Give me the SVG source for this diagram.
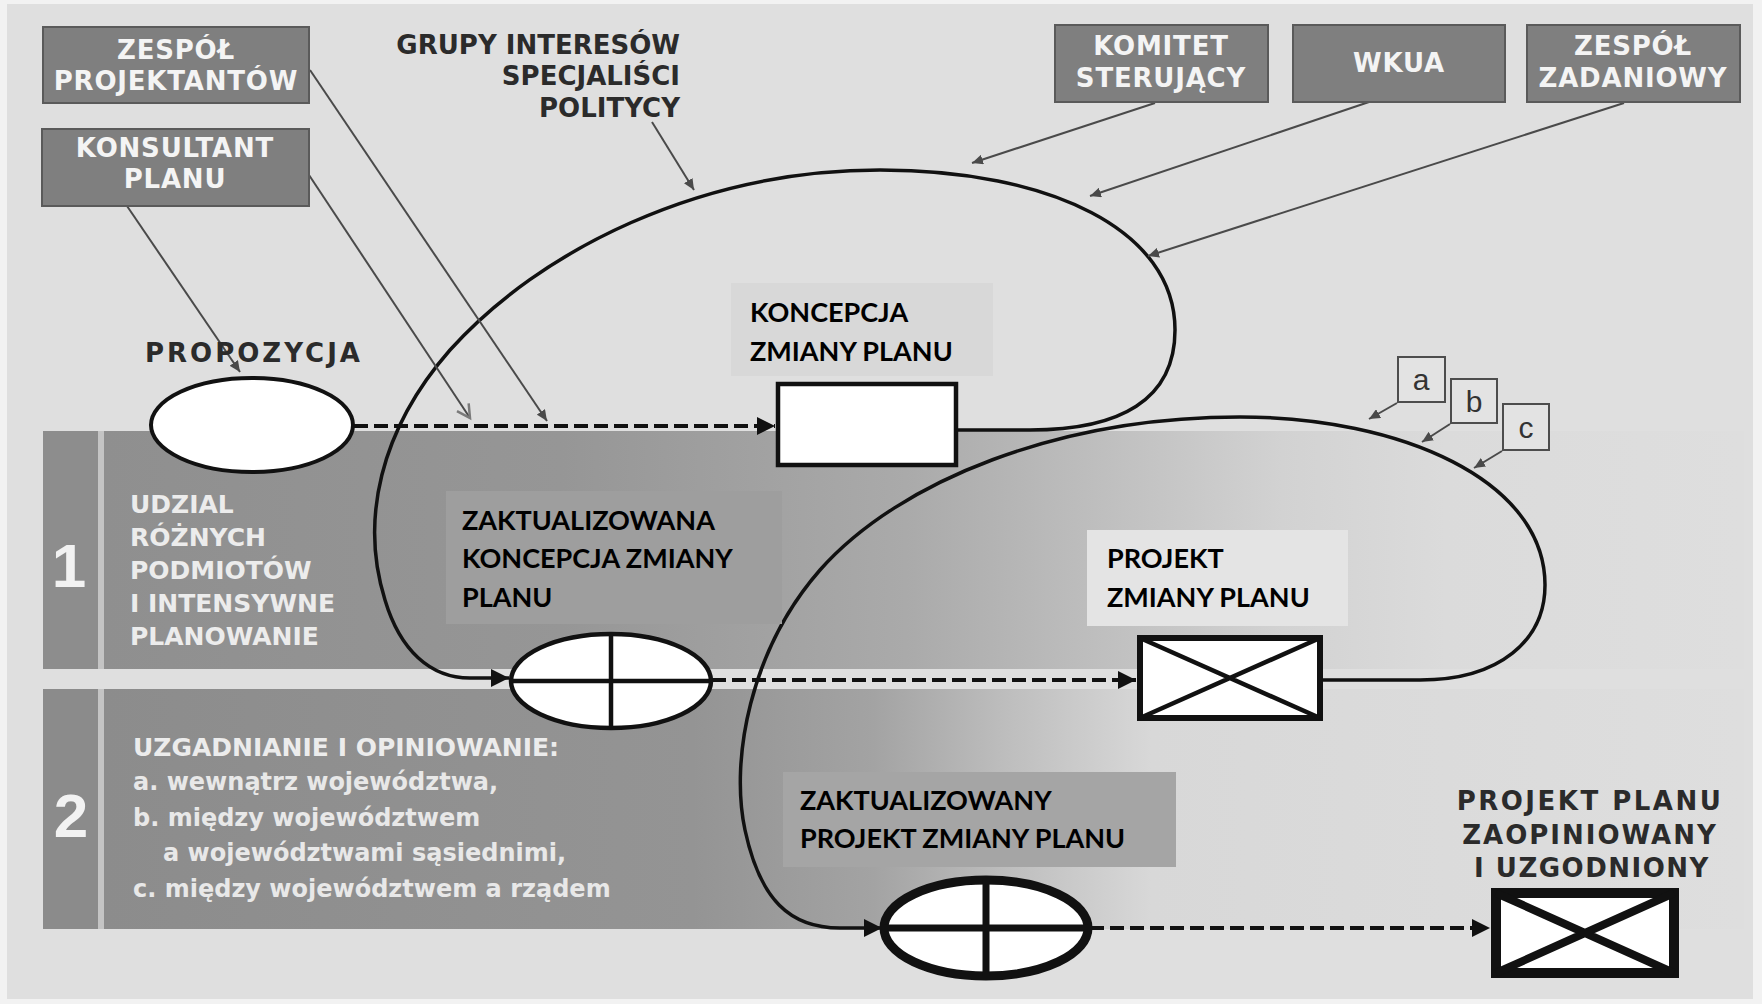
<svg xmlns="http://www.w3.org/2000/svg" width="1762" height="1004" viewBox="0 0 1762 1004">
<style>
.box{fill:#7f7f7f;stroke:#5a5a5a;stroke-width:2}
.boxt{font-family:'DejaVu Sans',sans-serif;font-weight:bold;font-size:26px;fill:#f4f4f4;text-anchor:middle;letter-spacing:0.8px}
.dark{font-family:'DejaVu Sans',sans-serif;font-weight:bold;font-size:26px;fill:#2b2b2b}
.bandt{font-family:'DejaVu Sans',sans-serif;font-weight:bold;font-size:25px;fill:#ececec}
.bandl{font-family:'DejaVu Sans',sans-serif;font-weight:bold;font-size:24px;fill:#e8e8e8}
.num{font-family:'Liberation Sans',Arial,sans-serif;font-weight:bold;font-size:62px;fill:#f2f2f2;text-anchor:middle}
.ov{font-family:Lato,'Open Sans',sans-serif;font-weight:bold;font-size:27px;fill:#000}
.flow{fill:none;stroke:#111;stroke-width:3.5}
.dash{fill:none;stroke:#111;stroke-width:4;stroke-dasharray:14 6}
.thin{fill:none;stroke:#4a4a4a;stroke-width:2}
.node{fill:#fff;stroke:#111}
.abc{fill:#e3e3e3;stroke:#4d4d4d;stroke-width:2}
.abct{font-family:'Liberation Sans',Arial,sans-serif;font-size:30px;fill:#333;text-anchor:middle}
</style>
<defs>
<linearGradient id="g1" gradientUnits="userSpaceOnUse" x1="104" y1="0" x2="1740" y2="0">
<stop offset="0" stop-color="#8f8f8f"/>
<stop offset="0.28" stop-color="#969696"/>
<stop offset="0.49" stop-color="#aaaaaa"/>
<stop offset="0.64" stop-color="#c4c4c4"/>
<stop offset="0.72" stop-color="#d2d2d2"/>
<stop offset="0.82" stop-color="#dbdbdb"/>
<stop offset="1" stop-color="#dedede"/>
</linearGradient>
<linearGradient id="g2" gradientUnits="userSpaceOnUse" x1="104" y1="0" x2="1740" y2="0">
<stop offset="0" stop-color="#8c8c8c"/>
<stop offset="0.36" stop-color="#949494"/>
<stop offset="0.47" stop-color="#a3a3a3"/>
<stop offset="0.55" stop-color="#bdbdbd"/>
<stop offset="0.64" stop-color="#d8d8d8"/>
<stop offset="1" stop-color="#dedede"/>
</linearGradient>
<marker id="ah" markerUnits="userSpaceOnUse" markerWidth="20" markerHeight="20" refX="18" refY="9" orient="auto"><path d="M0,0 L18,9 L0,18 z" fill="#111"/></marker>
<marker id="sm" markerUnits="userSpaceOnUse" markerWidth="12" markerHeight="10" refX="11" refY="5" orient="auto"><path d="M0,0 L11,5 L0,10 z" fill="#4a4a4a"/></marker>
<marker id="open" markerUnits="userSpaceOnUse" markerWidth="18" markerHeight="18" refX="14" refY="8" orient="auto"><path d="M1,1 L14,8 L1,15" fill="none" stroke="#7a7a7a" stroke-width="2.5"/></marker>
</defs>

<rect x="0" y="0" width="1762" height="1004" fill="#f2f2f2"/>
<rect x="7" y="4" width="1746" height="995" fill="#dfdfdf"/>

<g id="band1">
<rect x="43" y="431" width="55" height="238" fill="#8d8d8d"/>
<rect x="98" y="431" width="6" height="238" fill="#c4c4c4"/>
<rect x="104" y="431" width="1640" height="238" fill="url(#g1)"/>
<text class="num" x="69" y="587">1</text>
<text class="bandt" x="130" y="513">UDZIAL</text>
<text class="bandt" x="130" y="546">RÓŻNYCH</text>
<text class="bandt" x="130" y="579">PODMIOTÓW</text>
<text class="bandt" x="130" y="612">I INTENSYWNE</text>
<text class="bandt" x="130" y="645">PLANOWANIE</text>
</g>

<g id="band2">
<rect x="43" y="689" width="55" height="240" fill="#8b8b8b"/>
<rect x="98" y="689" width="6" height="240" fill="#c4c4c4"/>
<rect x="104" y="689" width="1640" height="240" fill="url(#g2)"/>
<text class="num" x="71" y="837">2</text>
<text class="bandt" x="133" y="756">UZGADNIANIE I OPINIOWANIE:</text>
<text class="bandl" x="133" y="790">a. wewnątrz województwa,</text>
<text class="bandl" x="133" y="826">b. między województwem</text>
<text class="bandl" x="163" y="861">a województwami sąsiednimi,</text>
<text class="bandl" x="133" y="897">c. między województwem a rządem</text>
</g>

<g id="connectors">
<path class="flow" marker-end="url(#ah)" d="M 956 430 L 1030 430 C 1120 430, 1175 400, 1175 330 C 1175 230, 1050 170, 880 170 C 700 170, 540 250, 450 350 C 380 430, 360 520, 385 600 C 400 650, 430 678, 470 678 L 509 678"/>
<path class="flow" marker-end="url(#ah)" d="M 1321 680 L 1420 680 C 1500 680, 1545 640, 1545 585 C 1545 480, 1400 417, 1240 417 C 1060 417, 900 480, 820 570 C 750 650, 730 760, 745 830 C 760 900, 790 928, 840 928 L 882 928"/>
<path class="dash" marker-end="url(#ah)" d="M 354 426 L 775 426"/>
<path class="dash" marker-end="url(#ah)" d="M 712 680 L 1136 680"/>
<path class="dash" marker-end="url(#ah)" d="M 1090 928 L 1490 928"/>
<path class="thin" stroke="#666" marker-end="url(#sm)" d="M 310 70 L 547 421"/>
<path class="thin" stroke="#7a7a7a" stroke-width="2.5" marker-end="url(#open)" d="M 309 175 L 470 418"/>
<path class="thin" marker-end="url(#sm)" d="M 127 206 L 240 372"/>
<path class="thin" marker-end="url(#sm)" d="M 652 122 L 694 190"/>
<path class="thin" marker-end="url(#sm)" d="M 1155 103 L 972 163"/>
<path class="thin" marker-end="url(#sm)" d="M 1369 102 L 1090 196"/>
<path class="thin" marker-end="url(#sm)" d="M 1624 103 L 1148 256"/>
<path class="thin" marker-end="url(#sm)" d="M 1397 403 L 1369 419"/>
<path class="thin" marker-end="url(#sm)" d="M 1450 424 L 1422 442"/>
<path class="thin" marker-end="url(#sm)" d="M 1502 451 L 1474 468"/>
</g>

<g id="zespol-projektantow">
<rect class="box" x="43" y="27" width="266" height="76"/>
<text class="boxt" x="176" y="59">ZESPÓŁ</text>
<text class="boxt" x="176" y="90">PROJEKTANTÓW</text>
</g>
<g id="konsultant-planu">
<rect class="box" x="42" y="129" width="267" height="77"/>
<text class="boxt" x="175" y="157">KONSULTANT</text>
<text class="boxt" x="175" y="188">PLANU</text>
</g>
<g id="grupy-interesow">
<text class="dark" x="680" y="54" text-anchor="end">GRUPY INTERESÓW</text>
<text class="dark" x="680" y="85" text-anchor="end">SPECJALIŚCI</text>
<text class="dark" x="680" y="117" text-anchor="end">POLITYCY</text>
</g>
<g id="komitet-sterujacy">
<rect class="box" x="1055" y="25" width="213" height="77"/>
<text class="boxt" x="1161" y="55">KOMITET</text>
<text class="boxt" x="1161" y="87">STERUJĄCY</text>
</g>
<g id="wkua">
<rect class="box" x="1293" y="25" width="212" height="77"/>
<text class="boxt" x="1399" y="72">WKUA</text>
</g>
<g id="zespol-zadaniowy">
<rect class="box" x="1527" y="25" width="213" height="77"/>
<text class="boxt" x="1633" y="55">ZESPÓŁ</text>
<text class="boxt" x="1633" y="87">ZADANIOWY</text>
</g>

<g id="propozycja">
<text class="dark" x="145" y="362" font-size="29" letter-spacing="3">PROPOZYCJA</text>
<ellipse class="node" cx="252" cy="425" rx="101" ry="47" stroke-width="4"/>
</g>

<g id="koncepcja">
<rect x="731" y="283" width="262" height="93" fill="#d8d8d8"/>
<text class="ov" x="750" y="322">KONCEPCJA</text>
<text class="ov" x="750" y="361">ZMIANY PLANU</text>
<rect class="node" x="778" y="384" width="178" height="81" stroke-width="4.5"/>
</g>

<g id="zaktualizowana-koncepcja">
<rect x="446" y="491" width="336" height="133" fill="#9e9e9e"/>
<text class="ov" x="462" y="530">ZAKTUALIZOWANA</text>
<text class="ov" x="462" y="568">KONCEPCJA ZMIANY</text>
<text class="ov" x="462" y="607">PLANU</text>
<ellipse class="node" cx="611" cy="681" rx="100" ry="47" stroke-width="4.5"/>
<path d="M 611 634 L 611 728 M 511 681 L 711 681" stroke="#111" stroke-width="4.5"/>
</g>

<g id="projekt-zmiany">
<rect x="1087" y="530" width="261" height="96" fill="#e4e4e4"/>
<text class="ov" x="1107" y="568">PROJEKT</text>
<text class="ov" x="1107" y="607">ZMIANY PLANU</text>
<rect class="node" x="1140" y="638" width="180" height="80" stroke-width="6"/>
<path d="M 1140 638 L 1320 718 M 1320 638 L 1140 718" stroke="#111" stroke-width="4.5"/>
</g>

<g id="abc">
<rect class="abc" x="1398" y="357" width="47" height="45"/>
<text class="abct" x="1421" y="390">a</text>
<rect class="abc" x="1451" y="379" width="46" height="44"/>
<text class="abct" x="1474" y="412">b</text>
<rect class="abc" x="1503" y="404" width="46" height="46"/>
<text class="abct" x="1526" y="438">c</text>
</g>

<g id="zaktualizowany-projekt">
<rect x="783" y="772" width="393" height="95" fill="#a5a5a5"/>
<text class="ov" x="800" y="810">ZAKTUALIZOWANY</text>
<text class="ov" x="800" y="848">PROJEKT ZMIANY PLANU</text>
<ellipse class="node" cx="986" cy="928" rx="102" ry="48" stroke-width="9"/>
<path d="M 986 880 L 986 976 M 884 928 L 1088 928" stroke="#111" stroke-width="7"/>
</g>

<g id="projekt-planu">
<text class="dark" x="1590" y="810" text-anchor="middle" font-size="29" letter-spacing="2.5">PROJEKT PLANU</text>
<text class="dark" x="1590" y="844" text-anchor="middle" font-size="29" letter-spacing="2">ZAOPINIOWANY</text>
<text class="dark" x="1592" y="877" text-anchor="middle" font-size="29" letter-spacing="1.5">I UZGODNIONY</text>
<rect class="node" x="1496" y="893" width="178" height="80" stroke-width="10"/>
<path d="M 1496 893 L 1674 973 M 1674 893 L 1496 973" stroke="#111" stroke-width="8"/>
</g>
</svg>
